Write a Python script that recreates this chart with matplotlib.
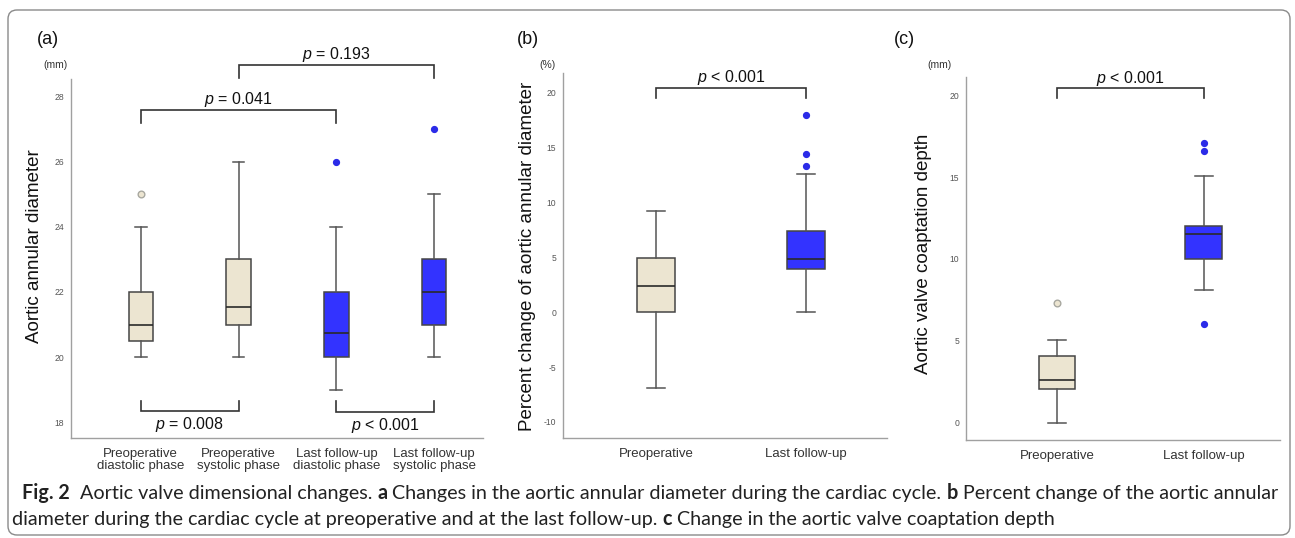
import matplotlib
matplotlib.use('Agg')
import matplotlib.pyplot as plt
from matplotlib.patches import FancyBboxPatch
from matplotlib.transforms import ScaledTranslation

plt.rcParams['font.family'] = ['Liberation Sans', 'DejaVu Sans']
plt.rcParams['mathtext.fontset'] = 'custom'
plt.rcParams['mathtext.it'] = 'Liberation Sans:italic'
plt.rcParams['mathtext.rm'] = 'Liberation Sans'

TAN = '#ECE5D1'
BLUE = '#3333FF'

# (a) aortic annular diameter (mm)
cats_a = ['Preoperative\ndiastolic phase', 'Preoperative\nsystolic phase',
          'Last follow-up\ndiastolic phase', 'Last follow-up\nsystolic phase']
a_whislo = [20, 20, 19, 20]
a_q1 = [20.5, 21, 20, 21]
a_med = [21, 21.55, 20.75, 22]
a_q3 = [22, 23, 22, 23]
a_whishi = [24, 26, 24, 25]
a_fliers = [[25], [], [26], [27]]
a_colors = [TAN, TAN, BLUE, BLUE]
a_ticks = [18, 20, 22, 24, 26, 28]

# (b) percent change of aortic annular diameter (%)
cats_b = ['Preoperative', 'Last follow-up']
b_whislo = [-6.9, 0.05]
b_q1 = [0.05, 3.9]
b_med = [2.4, 4.85]
b_q3 = [4.9, 7.4]
b_whishi = [9.2, 12.6]
b_fliers = [[], [13.3, 14.4, 18.0]]
b_colors = [TAN, BLUE]
b_ticks = [-10, -5, 0, 5, 10, 15, 20]

# (c) aortic valve coaptation depth (mm)
cats_c = ['Preoperative', 'Last follow-up']
c_whislo = [0, 8.1]
c_q1 = [2.05, 10.0]
c_med = [2.6, 11.55]
c_q3 = [4.1, 12.0]
c_whishi = [5.05, 15.05]
c_fliers = [[7.3], [6.05, 16.6, 17.1]]
c_colors = [TAN, BLUE]
c_ticks = [0, 5, 10, 15, 20]

# brackets: (left box, right box, bar y, leg end y, text)
a_brackets = [(1, 3, 27.6, 27.2, '$p$ = 0.041'),
              (2, 4, 28.98, 28.57, '$p$ = 0.193'),
              (1, 2, 18.34, 18.65, '$p$ = 0.008'),
              (3, 4, 18.32, 18.65, '$p$ < 0.001')]
b_brackets = [(1, 2, 20.45, 19.55, '$p$ < 0.001')]
c_brackets = [(1, 2, 20.4, 19.8, '$p$ < 0.001')]


def make_stats(lo, q1, med, q3, hi, fl):
    return [dict(whislo=lo[i], q1=q1[i], med=med[i], q3=q3[i], whishi=hi[i],
                 fliers=fl[i]) for i in range(len(med))]


def draw_panel(ax, stats, colors, cats, ticks, xlim, ylim, label_shift):
    pos = list(range(1, len(stats) + 1))
    bp = ax.bxp(stats, positions=pos, widths=0.25, patch_artist=True,
                capwidths=0.12, manage_ticks=False,
                boxprops=dict(edgecolor='#454545', linewidth=1.1),
                whiskerprops=dict(color='#555555', linewidth=1.1),
                capprops=dict(color='#555555', linewidth=1.1),
                medianprops=dict(color='#2a2a2a', linewidth=1.2))
    for patch, col in zip(bp['boxes'], colors):
        patch.set_facecolor(col)
    for fl, col in zip(bp['fliers'], colors):
        if col == TAN:
            fl.set(marker='o', markerfacecolor=TAN, markeredgecolor='#a8a8a0',
                   markersize=4.8, markeredgewidth=1)
        else:
            fl.set(marker='o', markerfacecolor='#2b2be8', markeredgecolor='#2b2be8',
                   markersize=4.2)
    ax.set_xlim(*xlim)
    ax.set_ylim(*ylim)
    ax.set_yticks(ticks)
    ax.set_yticklabels([str(t) for t in ticks])
    ax.set_xticks(pos)
    ax.set_xticklabels(cats, fontsize=9.5, color='#333333', linespacing=1.0)
    for lab, sh in zip(ax.get_xticklabels(), label_shift):
        lab.set_transform(lab.get_transform() +
                          ScaledTranslation(sh / 100.0, 0, ax.figure.dpi_scale_trans))
    ax.tick_params(axis='y', length=0, labelsize=6.2, labelcolor='#555555', pad=5)
    ax.tick_params(axis='x', length=0, pad=7)
    for s in ['top', 'right']:
        ax.spines[s].set_visible(False)
    for s in ['left', 'bottom']:
        ax.spines[s].set_color('#a0a0a0')
        ax.spines[s].set_linewidth(1.0)


def draw_brackets(ax, brackets):
    for i, j, y, leg, txt in brackets:
        ax.plot([i, i, j, j], [leg, y, y, leg], color='#333333', lw=1.2,
                clip_on=False, solid_joinstyle='miter')
        below = leg > y
        ax.annotate(txt, xy=((i + j) / 2, y), xytext=(0, -3 if below else 0.5),
                    textcoords='offset points', ha='center',
                    va='top' if below else 'bottom', fontsize=11.5, color='#111111',
                    annotation_clip=False)


fig = plt.figure(figsize=(12.95, 5.38), dpi=100)
W, H = 1295.0, 538.0

ax_a = fig.add_axes([71 / W, 1 - 438 / H, 412 / W, 359 / H])
ax_b = fig.add_axes([563 / W, 1 - 438 / H, 324 / W, 365 / H])
ax_c = fig.add_axes([966 / W, 1 - 440 / H, 314 / W, 363 / H])

draw_panel(ax_a, make_stats(a_whislo, a_q1, a_med, a_q3, a_whishi, a_fliers),
           a_colors, cats_a, a_ticks, (0.286, 4.5), (17.51, 28.55), [0, 0, 0, 0])
draw_panel(ax_b, make_stats(b_whislo, b_q1, b_med, b_q3, b_whishi, b_fliers),
           b_colors, cats_b, b_ticks, (0.38, 2.54), (-11.46, 21.8), [-21, -30])
draw_panel(ax_c, make_stats(c_whislo, c_q1, c_med, c_q3, c_whishi, c_fliers),
           c_colors, cats_c, c_ticks, (0.38, 2.52), (-1.04, 21.1), [-40, -46])

draw_brackets(ax_a, a_brackets)
draw_brackets(ax_b, b_brackets)
draw_brackets(ax_c, c_brackets)

# y labels, panel letters and units
fig.text(35 / W, 1 - 246 / H, 'Aortic annular diameter', rotation=90,
         ha='center', va='center', fontsize=13.5, color='#111111')
fig.text(527 / W, 1 - 256 / H, 'Percent change of aortic annular diameter', rotation=90,
         ha='center', va='center', fontsize=13.5, color='#111111')
fig.text(924 / W, 1 - 254 / H, 'Aortic valve coaptation depth', rotation=90,
         ha='center', va='center', fontsize=13.5, color='#111111')
for x, s in [(48, '(a)'), (528, '(b)'), (904, '(c)')]:
    fig.text(x / W, 1 - 40 / H, s, ha='center', va='center', fontsize=13, color='#111111')
for x, s in [(55, '(mm)'), (547, '(%)'), (939, '(mm)')]:
    fig.text(x / W, 1 - 65 / H, s, ha='center', va='center', fontsize=7.5, color='#333333')

# outer rounded frame
frame = FancyBboxPatch((8, 3), 1282, 525, boxstyle='round,pad=0,rounding_size=9',
                       transform=None, facecolor='none', edgecolor='#8a8a8a', lw=1.0)
fig.patches.append(frame)

# caption with bold runs
line1 = [('Fig. 2', True), ('  Aortic valve dimensional changes. ', False), ('a', True),
         (' Changes in the aortic annular diameter during the cardiac cycle. ', False),
         ('b', True), (' Percent change of the aortic annular', False)]
line2 = [('diameter during the cardiac cycle at preoperative and at the last follow-up. ', False),
         ('c', True), (' Change in the aortic valve coaptation depth', False)]

renderer = fig.canvas.get_renderer()


def put_runs(runs, x0, y0, fs, draw=True):
    x = x0
    for s, bold in runs:
        t = fig.text(x / W, 1 - y0 / H, s.replace(' ', '\u00a0'), fontsize=fs,
                     fontweight='bold' if bold else 'normal', family='Lato',
                     ha='left', va='center', color='#222222')
        w = t.get_window_extent(renderer).width
        if not draw:
            t.remove()
        x += w
    return x - x0


base = 12.0
width1 = put_runs(line1, 22, 493, base, draw=False)
fs = base * (1273 - 22) / width1
put_runs(line1, 22, 493, fs)
put_runs(line2, 12, 519, fs)

fig.savefig('out.png', dpi=100)
